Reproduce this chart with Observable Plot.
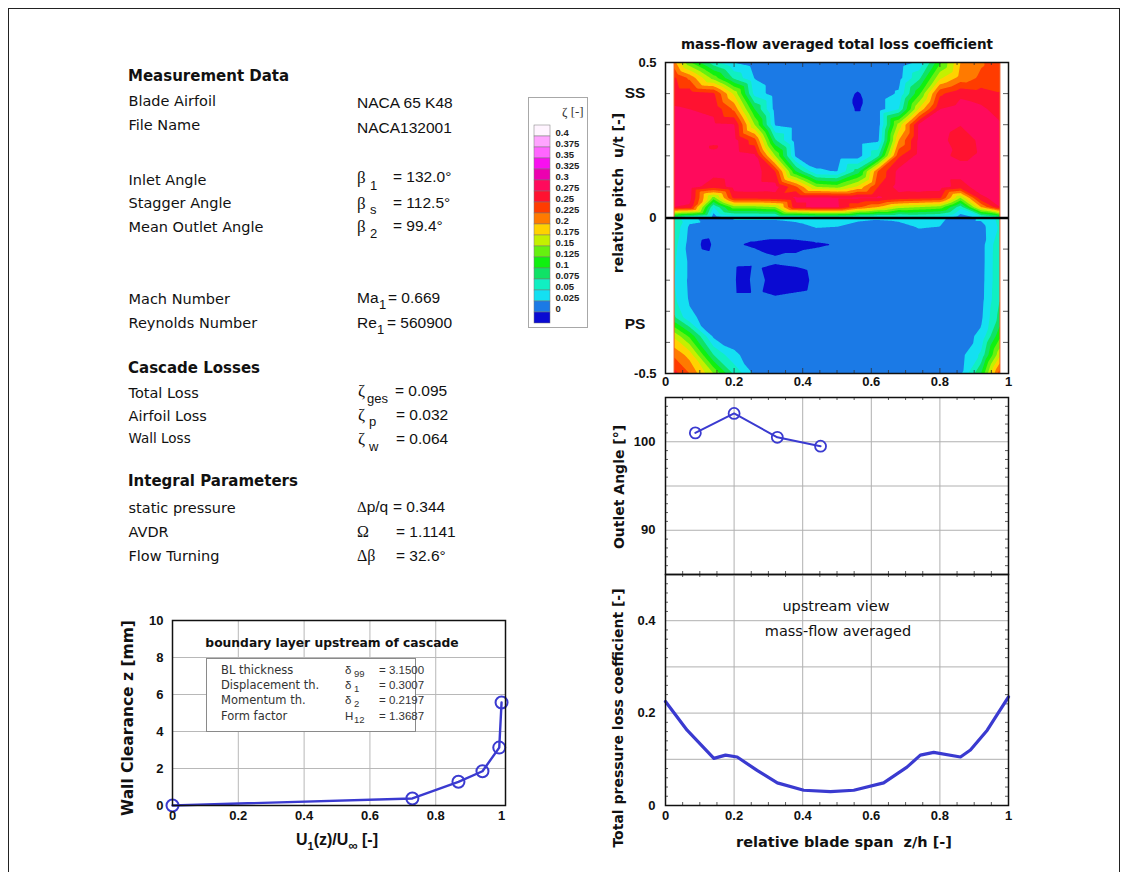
<!DOCTYPE html>
<html>
<head>
<meta charset="utf-8">
<script src="https://cdn.jsdelivr.net/npm/d3@7"></script>
<script src="https://cdn.jsdelivr.net/npm/@observablehq/plot@0.6"></script>
<style>
html,body{margin:0;padding:0;background:#fff;}
#page{position:relative;width:1127px;height:872px;overflow:hidden;background:#fff;color:#111;font-family:"DejaVu Sans",Verdana,sans-serif;}
#page .t{position:absolute;white-space:nowrap;line-height:1;}
#page svg{overflow:visible;}
</style>
</head>
<body>
<div id="page"></div>
<script>
// ---------------- DATA ----------------
// contour map: total loss coefficient zeta over relative span z/h (columns) and relative pitch u/t (rows)
const spanCols = [0.025, 0.07, 0.14, 0.2, 0.26, 0.32, 0.38, 0.44, 0.5, 0.56, 0.62, 0.68, 0.74, 0.8, 0.86, 0.92, 0.975];
const pitchRows = [0.5, 0.45, 0.4, 0.35, 0.3, 0.25, 0.2, 0.15, 0.1, 0.065, 0.035, 0, -0.03, -0.085, -0.14, -0.2, -0.26, -0.32, -0.38, -0.44, -0.5];
const zetaGrid = [
  [0.21, 0.13, 0.06, 0.024, 0.012, 0.012, 0.012, 0.012, 0.012, 0.012, 0.012, 0.012, 0.03, 0.12, 0.2, 0.222, 0.24],
  [0.255, 0.22, 0.14, 0.07, 0.024, 0.012, 0.012, 0.012, 0.012, 0.012, 0.012, 0.016, 0.07, 0.17, 0.21, 0.23, 0.238],
  [0.265, 0.265, 0.255, 0.17, 0.04, 0.012, 0.012, 0.012, 0.012, -0.002, 0.012, 0.028, 0.12, 0.245, 0.27, 0.262, 0.252],
  [0.278, 0.275, 0.27, 0.22, 0.1, 0.015, 0.012, 0.012, 0.012, -0.002, 0.012, 0.05, 0.18, 0.275, 0.285, 0.28, 0.265],
  [0.285, 0.285, 0.28, 0.277, 0.15, 0.022, 0.012, 0.012, 0.012, 0.012, 0.012, 0.16, 0.282, 0.287, 0.276, 0.285, 0.278],
  [0.288, 0.288, 0.282, 0.285, 0.235, 0.078, 0.012, 0.012, 0.012, 0.012, 0.02, 0.2, 0.283, 0.283, 0.262, 0.28, 0.282],
  [0.288, 0.288, 0.283, 0.288, 0.28, 0.15, 0.02, 0.012, 0.012, 0.012, 0.07, 0.245, 0.285, 0.28, 0.27, 0.278, 0.285],
  [0.288, 0.288, 0.285, 0.288, 0.288, 0.25, 0.1, 0.028, 0.024, 0.086, 0.228, 0.283, 0.285, 0.285, 0.285, 0.285, 0.285],
  [0.288, 0.288, 0.26, 0.285, 0.287, 0.285, 0.23, 0.15, 0.14, 0.18, 0.25, 0.285, 0.287, 0.287, 0.265, 0.287, 0.288],
  [0.285, 0.285, 0.14, 0.26, 0.26, 0.265, 0.28, 0.28, 0.278, 0.28, 0.28, 0.265, 0.26, 0.255, 0.15, 0.27, 0.285],
  [0.275, 0.27, 0.05, 0.14, 0.14, 0.15, 0.27, 0.28, 0.28, 0.23, 0.2, 0.16, 0.15, 0.14, 0.06, 0.2, 0.275],
  [0.06, 0.035, 0.005, 0.028, 0.028, 0.028, 0.032, 0.04, 0.04, 0.032, 0.028, 0.03, 0.04, 0.035, 0.005, 0.03, 0.06],
  [0.07, 0.02, 0.014, 0.014, 0.014, 0.014, 0.016, 0.026, 0.024, 0.014, 0.014, 0.018, 0.026, 0.024, 0.014, 0.015, 0.055],
  [0.06, 0.015, 0.004, 0.002, -0.003, -0.006, -0.006, -0.003, 0.001, 0.01, 0.012, 0.012, 0.012, 0.012, 0.012, 0.014, 0.07],
  [0.055, 0.02, 0.012, 0.012, 0.01, 0.003, 0.006, 0.012, 0.012, 0.012, 0.012, 0.012, 0.012, 0.012, 0.012, 0.014, 0.072],
  [0.05, 0.02, 0.012, 0.008, 0.02, -0.02, -0.015, 0.008, 0.012, 0.012, 0.012, 0.012, 0.012, 0.012, 0.012, 0.015, 0.072],
  [0.055, 0.022, 0.012, 0.012, 0.012, 0.004, 0.008, 0.012, 0.012, 0.012, 0.012, 0.012, 0.012, 0.012, 0.012, 0.016, 0.075],
  [0.08, 0.03, 0.014, 0.012, 0.012, 0.012, 0.012, 0.012, 0.012, 0.012, 0.012, 0.012, 0.012, 0.012, 0.013, 0.02, 0.085],
  [0.17, 0.12, 0.02, 0.012, 0.012, 0.012, 0.012, 0.012, 0.012, 0.012, 0.012, 0.012, 0.012, 0.012, 0.015, 0.03, 0.12],
  [0.22, 0.19, 0.075, 0.03, 0.012, 0.012, 0.012, 0.012, 0.012, 0.012, 0.012, 0.012, 0.012, 0.012, 0.017, 0.055, 0.17],
  [0.26, 0.225, 0.15, 0.07, 0.02, 0.012, 0.012, 0.012, 0.012, 0.012, 0.012, 0.012, 0.012, 0.012, 0.02, 0.1, 0.24]
];
// isolated measurement spots [z/h, u/t, zeta]
const spotSpan = [0.56, 0.14, 0.12, 0.225];
const spotPitch = [0.375, 0.228, -0.085, -0.195];
const spotZeta = [-0.004, 0.272, -0.008, -0.03];

const zetaLevels = [0, 0.025, 0.05, 0.075, 0.1, 0.125, 0.15, 0.175, 0.2, 0.225, 0.25, 0.275, 0.3, 0.325, 0.35, 0.375, 0.4];
const zetaLabels = ["0.4", "0.375", "0.35", "0.325", "0.3", "0.275", "0.25", "0.225", "0.2", "0.175", "0.15", "0.125", "0.1", "0.075", "0.05", "0.025", "0"];
const zetaColors = ["#0a0ad2", "#1b7ae6", "#14e0f2", "#10efc2", "#10e266", "#10f010", "#66f010", "#c4f000", "#ffd200", "#ff7a00", "#ff3c00", "#ff1230", "#ff0a5c", "#ec00b0", "#f810f0", "#ff66ff", "#ffa4ff", "#fff4ff"];

// outlet angle over span
const angleSpan = [0.087, 0.2, 0.326, 0.452];
const angleValue = [101.0, 103.2, 100.5, 99.5];

// mass-flow averaged total pressure loss over span
const lossSpan = [0, 0.063, 0.141, 0.175, 0.209, 0.267, 0.326, 0.403, 0.481, 0.549, 0.636, 0.704, 0.743, 0.782, 0.86, 0.889, 0.938, 1];
const lossValue = [0.225, 0.163, 0.102, 0.109, 0.105, 0.076, 0.049, 0.033, 0.030, 0.033, 0.049, 0.083, 0.109, 0.115, 0.105, 0.12, 0.163, 0.235];

// upstream boundary layer
const blVelocity = [0, 0.729, 0.869, 0.942, 0.993, 1.0];
const blClearance = [0, 0.38, 1.28, 1.85, 3.13, 5.57];

// ticks
const spanTicks = [0, 0.2, 0.4, 0.6, 0.8, 1];
const spanGrid = [0.2, 0.4, 0.6, 0.8];
const spanMinor = [0.05, 0.1, 0.15, 0.25, 0.3, 0.35, 0.45, 0.5, 0.55, 0.65, 0.7, 0.75, 0.85, 0.9, 0.95];
const pitchTicks = [-0.5, 0, 0.5];
const pitchMinor = [-0.4, -0.3, -0.2, -0.1, 0.1, 0.2, 0.3, 0.4];
const angleTicks = [90, 100];
const angleGrid = [90, 95, 100];
const angleMinor = [86, 87, 88, 89, 91, 92, 93, 94, 96, 97, 98, 99, 101, 102, 103, 104];
const lossTicks = [0, 0.2, 0.4];
const lossGrid = [0.1, 0.2, 0.3, 0.4];
const lossMinor = [0.02, 0.04, 0.06, 0.08, 0.12, 0.14, 0.16, 0.18, 0.22, 0.24, 0.26, 0.28, 0.32, 0.34, 0.36, 0.38, 0.42, 0.44, 0.46, 0.48];
const blTicksY = [0, 2, 4, 6, 8, 10];
const blGridY = [2, 4, 6, 8];

// text panel
const infoLabels = ["Blade Airfoil", "File Name", "Inlet Angle", "Stagger Angle", "Mean Outlet Angle", "Mach Number", "Reynolds Number", "Total Loss", "Airfoil Loss", "Wall Loss", "static pressure", "AVDR", "Flow Turning"];
const infoRowsY = [101, 125, 180, 203, 227, 299, 323, 392.5, 415.5, 438.5, 508, 532, 556];
const headings = ["Measurement Data", "Cascade Losses", "Integral Parameters"];
const headingsY = [76, 368, 481];
const blRows = ["BL thickness", "Displacement th.", "Momentum th.", "Form factor"];
const blSym = ["δ", "δ", "δ", "H"];
const blSub = ["99", "1", "2", "12"];
const blVals = ["= 3.1500", "= 0.3007", "= 0.2197", "= 1.3687"];

// ---------------- DRAWING ----------------
const page = document.getElementById("page");
const BLUE = "#3a3ad0";
function txt(x, y, html, css = "", anchor = "start", rotate = false) {
  const d = document.createElement("div");
  d.className = "t";
  d.innerHTML = html;
  d.style.cssText += css;
  d.style.left = x + "px";
  d.style.top = y + "px";
  const tx = anchor === "middle" ? "-50%" : anchor === "end" ? "-100%" : "0";
  d.style.transform = `translate(${tx},-50%)` + (rotate ? " rotate(-90deg)" : "");
  page.appendChild(d);
  return d;
}
function place(el, left, top) {
  el.style.position = "absolute";
  el.style.left = left + "px";
  el.style.top = top + "px";
  page.appendChild(el);
  return el;
}
// inward tick marks along the frame edges (style: lengths are insets)
function edgeTicksY(values, frameW, len) {
  return [
    Plot.ruleY(values, {insetRight: frameW - len, stroke: "#333", strokeWidth: 0.8}),
    Plot.ruleY(values, {insetLeft: frameW - len, stroke: "#333", strokeWidth: 0.8})
  ];
}
function edgeTicksX(values, frameH, len) {
  return [
    Plot.ruleX(values, {insetBottom: frameH - len, stroke: "#333", strokeWidth: 0.8}),
    Plot.ruleX(values, {insetTop: frameH - len, stroke: "#333", strokeWidth: 0.8})
  ];
}
const baseStyle = {background: "transparent", fontFamily: "'Liberation Sans', Arial, sans-serif", fontSize: "13px", fontWeight: "bold", color: "#111", overflow: "visible"};

// outer border
const border = document.createElement("div");
border.style.cssText = "position:absolute;left:8px;top:8px;width:1110px;height:880px;border:1px solid #222;";
page.appendChild(border);

// ---- contour map ----
const contourData = [];
pitchRows.forEach((p, i) => spanCols.forEach((z, j) => contourData.push({z, p, zeta: zetaGrid[i][j]})));
spotSpan.forEach((z, i) => contourData.push({z, p: spotPitch[i], zeta: spotZeta[i]}));
const FW = 343, CH = 311;
const contourPlot = Plot.plot({
  width: 420, height: 375,
  marginLeft: 65, marginRight: 12, marginTop: 32, marginBottom: 32,
  style: baseStyle,
  x: {domain: [0, 1], label: null},
  y: {domain: [-0.5, 0.5], label: null},
  color: {type: "threshold", domain: zetaLevels, range: zetaColors},
  marks: [
    Plot.contour(contourData, {
      x: "z", y: "p", fill: "zeta", interpolate: "barycentric",
      thresholds: [-1, ...zetaLevels],
      x1: spanCols[0], x2: spanCols[spanCols.length - 1],
      y1: pitchRows[pitchRows.length - 1], y2: pitchRows[0],
      pixelSize: 1
    }),
    Plot.ruleX([spanCols[0], spanCols[spanCols.length - 1]], {stroke: "#f0602a", strokeWidth: 1}),
    Plot.ruleY([0], {stroke: "#000", strokeWidth: 2.5}),
    ...edgeTicksY(pitchMinor, FW, 5),
    ...edgeTicksX(spanGrid, CH, 5),
    ...edgeTicksX(spanMinor, CH, 3),
    Plot.frame({stroke: "#111", strokeWidth: 1.5}),
    Plot.axisX(spanTicks, {tickSize: 0, tickPadding: 3, tickFormat: d => String(d), label: null}),
    Plot.axisY(pitchTicks, {tickSize: 0, tickPadding: 9, tickFormat: d => String(d), label: null})
  ]
});
place(contourPlot, 600, 30);

// ---- legend ----
const legendWrap = document.createElement("div");
legendWrap.style.cssText = "position:absolute;left:528px;top:97px;width:58px;height:229px;border:1px solid #a8a8a8;background:#fff;";
page.appendChild(legendWrap);
const legendBoxes = zetaColors.slice().reverse().map((c, i) => ({i, c}));
const legendText = zetaLabels.map((l, i) => ({i, l}));
const legendPlot = Plot.plot({
  width: 58, height: 229, marginTop: 24, marginBottom: 2, marginLeft: 5, marginRight: 37,
  style: {background: "transparent", fontFamily: "'Liberation Sans', Arial, sans-serif", fontSize: "9.5px", fontWeight: "bold", color: "#222", overflow: "visible"},
  x: {axis: null, type: "band", domain: ["a"], padding: 0},
  y: {axis: null, type: "band", domain: d3.range(legendBoxes.length), padding: 0},
  color: {type: "identity"},
  marks: [
    Plot.cell(legendBoxes, {x: () => "a", y: "i", fill: "c", stroke: "#777", strokeWidth: 0.5}),
    Plot.text(legendText, {x: () => "a", y: "i", text: "l", textAnchor: "start", dx: 13, dy: 2})
  ]
});
legendPlot.style.position = "absolute";
legendPlot.style.left = "0px";
legendPlot.style.top = "0px";
legendWrap.appendChild(legendPlot);
txt(562, 111, "ζ [-]", "font-family:'Liberation Serif','DejaVu Serif',serif;font-size:13px;color:#333;");

// ---- outlet angle ----
const AH = 177;
const anglePlot = Plot.plot({
  width: 420, height: 200, marginLeft: 65, marginRight: 12, marginTop: 17, marginBottom: 6,
  style: baseStyle,
  x: {domain: [0, 1], axis: null},
  y: {domain: [85, 105], label: null},
  marks: [
    Plot.gridX(spanGrid, {stroke: "#b0b0b0", strokeOpacity: 1}),
    Plot.gridY(angleGrid, {stroke: "#b0b0b0", strokeOpacity: 1}),
    ...edgeTicksY(angleMinor, FW, 3),
    ...edgeTicksX(spanMinor, AH, 3),
    Plot.line(angleSpan.map((z, i) => ({z, a: angleValue[i]})), {x: "z", y: "a", stroke: BLUE, strokeWidth: 2}),
    Plot.dot(angleSpan.map((z, i) => ({z, a: angleValue[i]})), {x: "z", y: "a", r: 5.5, stroke: BLUE, strokeWidth: 1.8, fill: "none"}),
    Plot.frame({stroke: "#111", strokeWidth: 1.5}),
    Plot.axisY(angleTicks, {tickSize: 0, tickPadding: 10, label: null})
  ]
});
place(anglePlot, 600, 380);

// ---- loss distribution ----
const LH = 231;
const lossPlot = Plot.plot({
  width: 420, height: 303, marginLeft: 65, marginRight: 12, marginTop: 17, marginBottom: 55,
  style: baseStyle,
  x: {domain: [0, 1], label: null},
  y: {domain: [0, 0.5], label: null},
  marks: [
    Plot.gridX(spanGrid, {stroke: "#b0b0b0", strokeOpacity: 1}),
    Plot.gridY(lossGrid, {stroke: "#b0b0b0", strokeOpacity: 1}),
    ...edgeTicksY(lossMinor, FW, 3),
    ...edgeTicksX(spanMinor, LH, 3),
    Plot.line(lossSpan.map((z, i) => ({z, v: lossValue[i]})), {x: "z", y: "v", stroke: BLUE, strokeWidth: 3.2}),
    Plot.frame({stroke: "#111", strokeWidth: 1.5}),
    Plot.axisX(spanTicks, {tickSize: 0, tickPadding: 5, tickFormat: d => String(d), label: null}),
    Plot.axisY(lossTicks, {tickSize: 0, tickPadding: 10, tickFormat: d => String(d), label: null})
  ]
});
place(lossPlot, 600, 557);

// ---- boundary layer ----
const blData = blVelocity.map((u, i) => ({u, z: blClearance[i]}));
const blPlot = Plot.plot({
  width: 420, height: 260, marginLeft: 72, marginRight: 15, marginTop: 20, marginBottom: 55,
  style: baseStyle,
  x: {domain: [0, 1.012], label: null},
  y: {domain: [0, 10], label: null},
  marks: [
    Plot.gridX(spanGrid, {stroke: "#b8b8b8", strokeOpacity: 1}),
    Plot.gridY(blGridY, {stroke: "#b8b8b8", strokeOpacity: 1}),
    Plot.line(blData, {x: "u", y: "z", stroke: BLUE, strokeWidth: 2.4}),
    Plot.dot(blData, {x: "u", y: "z", r: 6, stroke: BLUE, strokeWidth: 2, fill: "none"}),
    Plot.frame({stroke: "#111", strokeWidth: 1.5}),
    Plot.axisX(spanTicks, {tickSize: 0, tickPadding: 5, tickFormat: d => String(d), label: null}),
    Plot.axisY(blTicksY, {tickSize: 0, tickPadding: 9, label: null})
  ]
});
place(blPlot, 100, 600);

// ---- text panel ----
headings.forEach((h, i) => txt(128, headingsY[i], h, "font-weight:bold;font-size:15px;"));
infoLabels.forEach((l, i) => txt(128.5, infoRowsY[i], l, "font-size:" + (l === "Wall Loss" ? 13.5 : 14.5) + "px;"));
const VAL = "font-family:'Liberation Sans',Arial,sans-serif;font-size:15.5px;";
const SYM = "font-family:'Liberation Serif','DejaVu Serif',serif;font-size:17px;";
const SUB = "font-family:'Liberation Sans',Arial,sans-serif;font-size:13px;";
txt(357, 103, "NACA 65 K48", VAL);
txt(357, 128, "NACA132001", VAL);
txt(357, 177, "β", SYM); txt(370, 185, "1", SUB); txt(393, 177, "= 132.0°", VAL);
txt(357, 203, "β", SYM); txt(370, 209, "s", SUB); txt(393, 203, "= 112.5°", VAL);
txt(357, 226, "β", SYM); txt(370, 233, "2", SUB); txt(393, 226, "= 99.4°", VAL);
txt(357, 298, "Ma", VAL); txt(379, 304, "1", SUB); txt(388, 298, "= 0.669", VAL);
txt(357, 323, "Re", VAL); txt(377, 329, "1", SUB); txt(387, 323, "= 560900", VAL);
txt(358, 390, "ζ", SYM); txt(367, 398, "ges", SUB); txt(395, 391, "= 0.095", VAL);
txt(358, 414, "ζ", SYM); txt(369, 421, "p", SUB); txt(396, 415, "= 0.032", VAL);
txt(358, 438, "ζ", SYM); txt(369, 446, "w", SUB); txt(396, 439, "= 0.064", VAL);
txt(357, 507, "<span style=\"font-family:'Liberation Serif',serif;font-size:15px\">Δ</span>p/q", VAL); txt(393, 507, "= 0.344", VAL);
txt(357, 532, "Ω", "font-family:'Liberation Serif',serif;font-size:16px;"); txt(396, 532, "= 1.1141", VAL);
txt(357, 556, "Δβ", "font-family:'Liberation Serif',serif;font-size:16px;"); txt(396, 556, "= 32.6°", VAL);

// ---- right panel annotations ----
txt(837, 45, "mass-flow averaged total loss coefficient", "font-weight:bold;font-size:13.5px;", "middle");
txt(635, 93, "SS", "font-family:'Liberation Sans',Arial,sans-serif;font-weight:bold;font-size:15.5px;", "middle");
txt(635, 324, "PS", "font-family:'Liberation Sans',Arial,sans-serif;font-weight:bold;font-size:15.5px;", "middle");
txt(618, 193, "relative pitch&nbsp; u/t [-]", "font-weight:bold;font-size:14px;", "middle", true);
txt(619, 487, "Outlet Angle [°]", "font-weight:bold;font-size:14px;", "middle", true);
txt(618, 718, "Total pressure loss coefficient [-]", "font-weight:bold;font-size:14px;", "middle", true);
txt(844, 842, "relative blade span&nbsp; z/h [-]", "font-weight:bold;font-size:14.5px;", "middle");
txt(836, 606, "upstream view", "font-size:14.5px;", "middle");
txt(838, 631, "mass-flow averaged", "font-size:14.5px;", "middle");

// ---- boundary layer annotations ----
const blBox = document.createElement("div");
blBox.style.cssText = "position:absolute;left:206px;top:658px;width:208px;height:72px;border:1px solid #8a8a8a;background:#fff;";
page.appendChild(blBox);
const blRowY = [671, 686, 700.5, 716.5];
blRows.forEach((r, i) => {
  txt(221, blRowY[i], r, "font-size:11.5px;color:#333;");
  txt(345, blRowY[i], blSym[i], "font-family:'Liberation Sans',Arial,sans-serif;font-size:11.5px;color:#333;");
  txt(354, blRowY[i] + 3, blSub[i], "font-family:'Liberation Sans',Arial,sans-serif;font-size:9.5px;color:#333;");
  txt(379, blRowY[i], blVals[i], "font-family:'Liberation Sans',Arial,sans-serif;font-size:11.5px;color:#333;");
});
txt(332, 643, "boundary layer upstream of cascade", "font-weight:bold;font-size:12.3px;", "middle");
txt(129, 718, "Wall Clearance z [mm]", "font-weight:bold;font-size:15.5px;", "middle", true);
txt(337, 840, "U<span style=\"font-size:11px;position:relative;top:5px\">1</span>(z)/U<span style=\"font-size:13px;position:relative;top:5px\">∞</span> [-]", "font-family:'Liberation Sans',Arial,sans-serif;font-weight:bold;font-size:16px;", "middle");
</script>
</body>
</html>
